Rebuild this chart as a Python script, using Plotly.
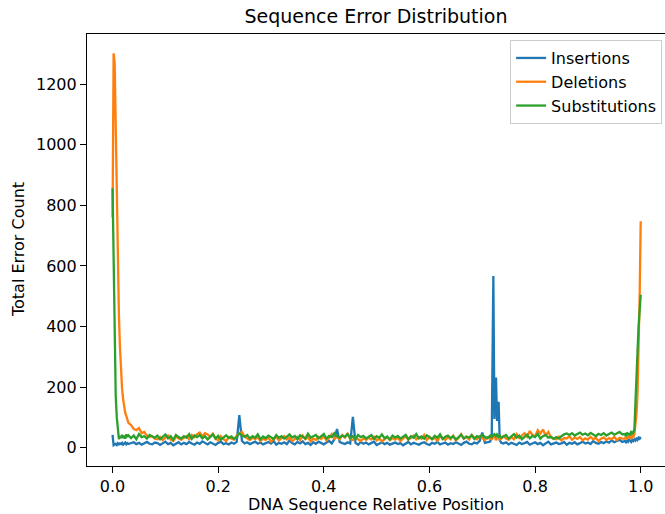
import numpy as np
import plotly.graph_objects as go

# ---- x positions (relative position, in thousandths) ----
head_x = np.arange(0, 31, 2)
body1_x = np.arange(35, 711, 5)
spike_x = np.array([715, 718, 721, 723, 726, 728, 731, 733, 736])
body2_x = np.arange(740, 966, 5)
tail_x = np.arange(970, 1001, 2)
positions = np.concatenate([head_x, body1_x, spike_x, body2_x, tail_x]) / 1000.0

# ---- Insertions ----
ins_head = [42, 8, 10, 13, 9, 15, 11, 14, 12, 16, 10, 13, 17, 11, 15, 12]
ins_body1 = [14, 18, 12, 16, 10, 15, 19, 13, 11, 17,
             15, 9, 14, 20, 12, 16, 8, 13, 18, 11,
             16, 12, 19, 14, 10, 17, 13, 21, 15, 11,
             18, 14, 9, 16, 20, 12, 15, 11, 17, 13,
             19, 108, 22, 14, 18, 12, 16, 20, 13, 17,
             11, 15, 19, 14, 22, 10, 16, 13, 18, 12,
             24, 15, 11, 19, 14, 21, 12, 16, 9, 18,
             13, 20, 15, 11, 17, 22, 14, 28, 62, 19,
             15, 12, 18, 14, 102, 16, 10, 19, 13, 17,
             11, 15, 20, 9, 14, 18, 12, 16, 10, 13,
             17, 12, 15, 8, 14, 19, 11, 16, 13, 10,
             15, 18, 12, 9, 16, 13, 19, 11, 14, 17,
             10, 15, 12, 18, 14, 9, 16, 20, 13, 11,
             17, 14, 22, 50, 16, 18]
ins_spike = [20, 45, 567, 95, 232, 88, 152, 25, 16]
ins_body2 = [14, 18, 11, 16, 13, 9, 17, 12, 15, 19,
             10, 14, 18, 12, 16, 8, 13, 20, 11, 15,
             17, 12, 14, 19, 10, 16, 13, 18, 11, 15,
             20, 14, 17, 12, 22, 16, 13, 19, 15, 21,
             17, 24, 18, 22, 26, 19]
ins_tail = [22, 18, 25, 20, 27, 23, 19, 26, 22, 28, 24, 30, 26, 33, 30, 36]

# ---- Deletions ----
del_head = [760, 1302, 1270, 1050, 820, 600, 440, 330, 250, 195, 160, 135, 115, 105, 95, 82]
del_body1 = [75, 62, 58, 65, 48, 52, 40, 35, 38, 30,
             28, 35, 25, 32, 40, 27, 22, 36, 30, 26,
             33, 38, 28, 42, 35, 45, 50, 38, 48, 44,
             36, 46, 30, 25, 38, 28, 22, 35, 30, 27,
             40, 45, 52, 36, 30, 25, 33, 28, 35, 22,
             30, 26, 34, 20, 28, 35, 24, 31, 38, 27,
             33, 22, 30, 36, 25, 40, 28, 34, 21, 30,
             26, 35, 29, 38, 24, 32, 45, 30, 36, 28,
             42, 33, 48, 30, 25, 34, 28, 22, 31, 26,
             33, 27, 36, 24, 30, 21, 28, 35, 25, 32,
             27, 34, 22, 30, 38, 26, 33, 40, 28, 35,
             30, 42, 25, 36, 28, 33, 22, 38, 30, 26,
             35, 28, 40, 24, 32, 45, 30, 36, 27, 42,
             33, 28, 38, 30, 25, 35]
del_spike = [30, 28, 35, 40, 25, 32, 38, 27, 30]
del_body2 = [38, 30, 26, 35, 28, 45, 32, 40, 48, 36,
             55, 42, 38, 58, 47, 60, 40, 52, 35, 30,
             28, 36, 24, 32, 30, 38, 26, 34, 29, 35,
             24, 31, 27, 36, 28, 33, 22, 30, 34, 26,
             32, 28, 36, 25, 33, 30]
del_tail = [30, 36, 27, 40, 32, 38, 29, 42, 34, 45, 70, 110, 180, 300, 500, 748]

# ---- Substitutions ----
sub_head = [857, 600, 290, 170, 100, 55, 28, 38, 32, 42, 35, 40, 30, 44, 36, 41]
sub_body1 = [32, 40, 28, 45, 35, 38, 30, 42, 36, 33,
             40, 28, 36, 44, 31, 38, 26, 42, 35, 30,
             38, 33, 45, 29, 40, 35, 42, 31, 38, 27,
             36, 44, 30, 39, 26, 35, 41, 32, 37, 29,
             34, 48, 40, 36, 42, 30, 38, 33, 44, 28,
             37, 31, 40, 35, 28, 42, 33, 38, 30, 36,
             44, 34, 39, 28, 41, 36, 30, 46, 33, 38,
             42, 31, 37, 45, 30, 39, 35, 48, 38, 33,
             40, 36, 45, 31, 38, 28, 42, 35, 39, 30,
             36, 42, 29, 38, 33, 44, 31, 37, 27, 40,
             34, 39, 30, 36, 42, 28, 38, 33, 45, 31,
             37, 30, 41, 35, 28, 39, 33, 44, 29, 36,
             40, 32, 38, 27, 35, 43, 30, 37, 33, 41,
             29, 38, 34, 42, 36, 31]
sub_spike = [40, 35, 42, 45, 38, 44, 36, 40, 33]
sub_body2 = [36, 42, 30, 38, 45, 33, 40, 28, 37, 43,
             31, 39, 35, 46, 30, 38, 42, 33, 36, 29,
             35, 30, 38, 44, 47, 42, 48, 40, 45, 50,
             43, 47, 41, 49, 44, 38, 46, 42, 48, 40,
             45, 50, 43, 47, 52, 44]
sub_tail = [45, 38, 50, 42, 48, 40, 55, 45, 50, 60, 170, 240, 320, 400, 460, 505]

insertions = ins_head + ins_body1 + ins_spike + ins_body2 + ins_tail
deletions = del_head + del_body1 + del_spike + del_body2 + del_tail
substitutions = sub_head + sub_body1 + sub_spike + sub_body2 + sub_tail

series_names = ["Insertions", "Deletions", "Substitutions"]
series_colors = ["#1f77b4", "#ff7f0e", "#2ca02c"]
x_ticks = [0.0, 0.2, 0.4, 0.6, 0.8, 1.0]
x_tick_labels = ["0.0", "0.2", "0.4", "0.6", "0.8", "1.0"]
y_ticks = [0, 200, 400, 600, 800, 1000, 1200]

FONT = "DejaVu Sans"
FS = 16

fig = go.Figure()
for name, vals, col in zip(series_names, [insertions, deletions, substitutions], series_colors):
    fig.add_trace(go.Scatter(x=positions, y=vals, mode="lines", name=name,
                             line=dict(color=col, width=2.3)))

fig.update_layout(
    width=665, height=514, autosize=False,
    margin=dict(l=87, r=0, t=34, b=48),
    paper_bgcolor="white", plot_bgcolor="white",
    font=dict(family=FONT, size=FS, color="black"),
    title=dict(text="Sequence Error Distribution", x=0.5, xref="paper", xanchor="center",
               y=1 - 16 / 514, yref="container", yanchor="middle",
               font=dict(family=FONT, size=19, color="black")),
    showlegend=True,
    legend=dict(x=0.995, y=0.986, xanchor="right", yanchor="top",
                bgcolor="rgba(255,255,255,0.8)", bordercolor="#cccccc", borderwidth=1,
                font=dict(family=FONT, size=FS, color="black")),
    xaxis=dict(range=[-0.0484, 1.046], tickvals=x_ticks, ticktext=x_tick_labels,
               showgrid=False, zeroline=False, showline=True, linecolor="black", linewidth=1.2,
               mirror=True, ticks="outside", ticklen=6, tickcolor="black", tickwidth=1.2),
    yaxis=dict(range=[-60.4, 1366], tickvals=y_ticks,
               showgrid=False, zeroline=False, showline=True, linecolor="black", linewidth=1.2,
               mirror=False, ticks="outside", ticklen=6, tickcolor="black", tickwidth=1.2),
    annotations=[
        dict(text="DNA Sequence Relative Position", xref="paper", yref="paper",
             x=0.5, y=(466 - 505) / 432, xanchor="center", yanchor="middle",
             showarrow=False, font=dict(family=FONT, size=FS, color="black")),
        dict(text="Total Error Count", xref="paper", yref="paper",
             x=(18 - 87) / 578, y=0.5, xanchor="center", yanchor="middle", textangle=-90,
             showarrow=False, font=dict(family=FONT, size=FS, color="black")),
    ],
)

fig.write_html("out.html", config={"displayModeBar": False},
               post_script="document.body.style.margin='0';")
